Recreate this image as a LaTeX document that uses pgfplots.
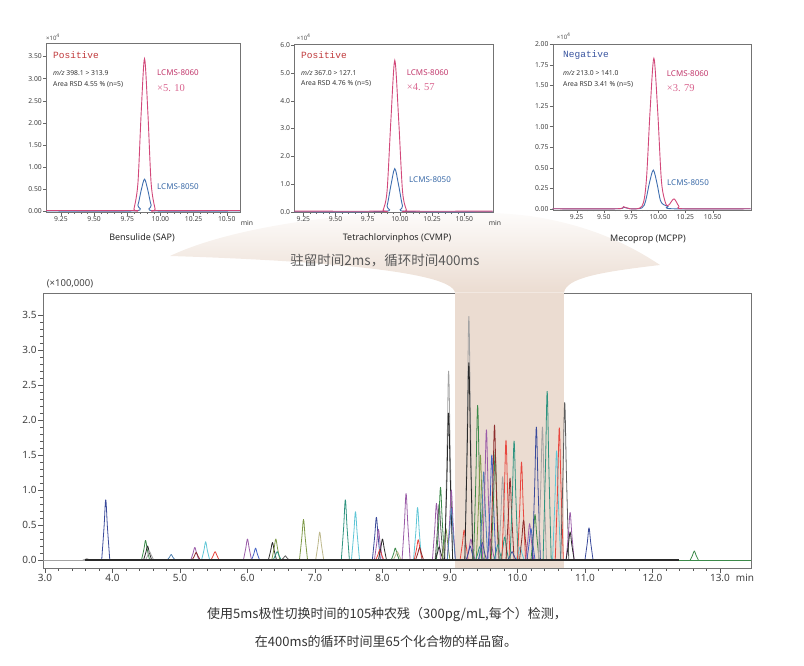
\documentclass[border=0pt]{standalone}
\usepackage{pgfplots}
\pgfplotsset{compat=1.18}
\usetikzlibrary{fadings}
\usepackage{fontspec}
\setmainfont{Noto Sans}
\newfontfamily\cjk{Noto Sans CJK SC}
\newfontfamily\monox{Liberation Mono}
\newfontfamily\serifx{Liberation Serif}

\definecolor{navy}{HTML}{3B4B9B}
\definecolor{blk}{HTML}{2A2A2A}
\definecolor{gry}{HTML}{A3A3A3}
\definecolor{dgray}{HTML}{5E5E5E}
\definecolor{dgrn}{HTML}{3C8A4A}
\definecolor{olive}{HTML}{7E9A48}
\definecolor{khaki}{HTML}{BDB88C}
\definecolor{ccyan}{HTML}{5FC6D6}
\definecolor{cred}{HTML}{E8473F}
\definecolor{dred}{HTML}{8E2E2E}
\definecolor{purp}{HTML}{9A5CA8}
\definecolor{cblue}{HTML}{4262C4}
\definecolor{steel}{HTML}{4F80B0}
\definecolor{cteal}{HTML}{2E9480}
\definecolor{band}{HTML}{EBDCD1}
\definecolor{pinkl}{HTML}{D2487A}
\definecolor{bluel}{HTML}{3F6FB0}
\definecolor{pinkt}{HTML}{C2386C}
\definecolor{bluet}{HTML}{3A6AA8}
\definecolor{post}{HTML}{C0393B}
\definecolor{negt}{HTML}{3A55A0}

\pgfplotsset{
  pk/.style={#1, line width=0.8pt, line join=round, smooth, tension=0.55, forget plot},
  inset/.style={scale only axis, anchor=south west,
    axis line style={draw=black!55}, tick align=outside,
    xtick pos=left, ytick pos=left,
    major tick length=3pt, minor tick length=1.5pt,
    tick style={black!60},
    tick label style={font=\fontsize{6.8}{8}\selectfont, text=black!75, inner sep=1pt},
    /pgf/number format/assume math mode=true, scaled ticks=false,
    xtick={9.25,9.5,9.75,10,10.25,10.5}, minor x tick num=4,
    xticklabel style={/pgf/number format/.cd,fixed,fixed zerofill,precision=2},
    axis background/.style={fill=white}},
  ipk/.style={#1, line width=0.9pt, smooth, tension=0.5},
}

\begin{document}
\begin{tikzpicture}[x=1pt,y=1pt]
\path (0,0) rectangle (804,665);

% funnel
\fill[band, path fading=north]
  (170,409) .. controls (250,447) and (420,462) .. (530,449)
  .. controls (590,440) and (630,420) .. (660,400)
  .. controls (600,393) and (566,387) .. (564,372.3)
  -- (455,372.3)
  .. controls (452,395) and (300,405) .. (170,409) -- cycle;

% ---------- inset 1 ----------
\begin{axis}[inset, at={(46pt,452.3pt)}, width=194pt, height=169.4pt,
  xmin=9.137, xmax=10.60, ymin=-0.04, ymax=3.80,
  ytick={0,0.5,1,1.5,2,2.5,3,3.5},
  yticklabel style={/pgf/number format/.cd,fixed,fixed zerofill,precision=2}]
\addplot[ipk=bluel] coordinates {(9.137,0)(9.80,0)(9.83,0.13)(9.855,0.47)(9.88,0.72)(9.905,0.47)(9.93,0.13)(9.96,0)(10.60,0)};
\addplot[ipk=pinkl] coordinates {(9.137,0.01)(9.79,0.01)(9.80,0.04)(9.83,0.62)(9.855,2.24)(9.88,3.45)(9.905,2.24)(9.93,0.62)(9.96,0.04)(9.97,0.01)(10.60,0.01)};
\end{axis}

% ---------- inset 2 ----------
\begin{axis}[inset, at={(294.3pt,452.3pt)}, width=198.4pt, height=168.7pt,
  xmin=9.18, xmax=10.72, ymin=-0.036, ymax=6.04,
  ytick={0,1,2,3,4,5,6},
  yticklabel style={/pgf/number format/.cd,fixed,fixed zerofill,precision=1}]
\addplot[ipk=bluel] coordinates {(9.18,0)(9.87,0.01)(9.90,0.21)(9.93,0.95)(9.96,1.55)(9.99,0.95)(10.02,0.21)(10.05,0.01)(10.72,0)};
\addplot[ipk=pinkl] coordinates {(9.18,0.02)(9.86,0.02)(9.87,0.06)(9.90,0.74)(9.93,3.32)(9.96,5.45)(9.99,3.32)(10.02,0.74)(10.05,0.06)(10.06,0.02)(10.72,0.02)};
\end{axis}

% ---------- inset 3 ----------
\begin{axis}[inset, at={(552.7pt,455pt)}, width=198pt, height=166pt,
  xmin=9.03, xmax=10.85, ymin=-0.015, ymax=2.005,
  ytick={0,0.25,0.5,0.75,1,1.25,1.5,1.75,2},
  yticklabel style={/pgf/number format/.cd,fixed,fixed zerofill,precision=2}]
\addplot[ipk=bluel] coordinates {(9.03,0)(9.62,0)(9.68,0.02)(9.74,0)(9.85,0.01)(9.885,0.10)(9.92,0.32)(9.955,0.47)(9.99,0.30)(10.02,0.10)(10.05,0.05)(10.09,0.03)(10.13,0)(10.85,0)};
\addplot[ipk=pinkl] coordinates {(9.03,0)(9.62,0)(9.68,0.025)(9.74,0)(9.85,0.03)(9.89,0.33)(9.925,1.19)(9.96,1.83)(9.995,1.19)(10.03,0.33)(10.07,0.06)(10.10,0.05)(10.145,0.12)(10.19,0.03)(10.23,0)(10.85,0)};
\end{axis}

% inset annotations
\begin{scope}[every node/.style={anchor=west, inner sep=0pt}]
\node[font=\fontsize{6}{7}\selectfont, text=black!70] at (46,628) {×10\textsuperscript{4}};
\node[font=\fontsize{6}{7}\selectfont, text=black!70] at (296.7,628) {×10\textsuperscript{4}};
\node[font=\fontsize{6}{7}\selectfont, text=black!70] at (556.7,629) {×10\textsuperscript{4}};

\node[font=\monox\fontsize{9.5}{11}\selectfont, text=post] at (53,610) {Positive};
\node[font=\fontsize{6.8}{8}\selectfont, text=black!80] at (53,592.3) {\textit{m/z} 398.1 > 313.9};
\node[font=\fontsize{6.8}{8}\selectfont, text=black!80] at (53,580) {Area RSD 4.55 \% (n=5)};
\node[font=\fontsize{8}{9}\selectfont, text=pinkt] at (157,592.3) {LCMS-8060};
\node[font=\serifx\fontsize{10.5}{12}\selectfont, text=pinkl!85] at (157,576.7) {×5. 10};
\node[font=\fontsize{8}{9}\selectfont, text=bluet] at (157,478.3) {LCMS-8050};

\node[font=\monox\fontsize{9.5}{11}\selectfont, text=post] at (301,610) {Positive};
\node[font=\fontsize{6.8}{8}\selectfont, text=black!80] at (301,592.3) {\textit{m/z} 367.0 > 127.1};
\node[font=\fontsize{6.8}{8}\selectfont, text=black!80] at (301,581.7) {Area RSD 4.76 \% (n=5)};
\node[font=\fontsize{8}{9}\selectfont, text=pinkt] at (406.7,592.3) {LCMS-8060};
\node[font=\serifx\fontsize{10.5}{12}\selectfont, text=pinkl!85] at (406.7,577.7) {×4. 57};
\node[font=\fontsize{8}{9}\selectfont, text=bluet] at (409,485) {LCMS-8050};

\node[font=\monox\fontsize{9.5}{11}\selectfont, text=negt] at (563,610) {Negative};
\node[font=\fontsize{6.8}{8}\selectfont, text=black!80] at (563,592.3) {\textit{m/z} 213.0 > 141.0};
\node[font=\fontsize{6.8}{8}\selectfont, text=black!80] at (563,580) {Area RSD 3.41 \% (n=5)};
\node[font=\fontsize{8}{9}\selectfont, text=pinkt] at (666.7,591.7) {LCMS-8060};
\node[font=\serifx\fontsize{10.5}{12}\selectfont, text=pinkl!85] at (666.7,576.7) {×3. 79};
\node[font=\fontsize{8}{9}\selectfont, text=bluet] at (667,482.7) {LCMS-8050};
\end{scope}

\node[font=\fontsize{6.8}{8}\selectfont, text=black!75] at (247,442.3) {min};
\node[font=\fontsize{6.8}{8}\selectfont, text=black!75] at (495,442.3) {min};

\node[font=\fontsize{9}{11}\selectfont, text=black!85] at (142,427) {Bensulide (SAP)};
\node[font=\fontsize{9}{11}\selectfont, text=black!85] at (397,427) {Tetrachlorvinphos (CVMP)};
\node[font=\fontsize{9}{11}\selectfont, text=black!85] at (648,426) {Mecoprop (MCPP)};

\node[font=\cjk\fontsize{13.5}{16}\selectfont, text=black!65] at (385,404) {驻留时间2ms，循环时间400ms};

% ---------- main chromatogram ----------
\begin{axis}[scale only axis, anchor=south west, at={(43.3pt,97.3pt)},
  width=707.7pt, height=275pt,
  xmin=2.975, xmax=13.46, ymin=-0.11, ymax=3.82,
  axis line style={draw=black!55}, tick align=outside,
  xtick pos=left, ytick pos=left,
  xtick={3,4,5,6,7,8,9,10,11,12,13},
  ytick={0,0.5,1,1.5,2,2.5,3,3.5},
  minor x tick num=4, minor y tick num=4,
  major tick length=5pt, minor tick length=3pt,
  tick style={black!65},
  tick label style={font=\fontsize{10}{12}\selectfont, text=black!75, inner sep=1.5pt},
  /pgf/number format/assume math mode=true, scaled ticks=false,
  xticklabel style={/pgf/number format/.cd,fixed,fixed zerofill,precision=1},
  yticklabel style={/pgf/number format/.cd,fixed,fixed zerofill,precision=1}]
\fill[band] (axis cs:9.07,-0.11) rectangle (axis cs:10.69,3.82);

\addplot[pk=gry] coordinates {(3.56,0)(3.595,0.01)(3.62,0.02)(3.645,0.01)(3.68,0)};
\addplot[pk=navy] coordinates {(3.84,0)(3.875,0.47)(3.90,0.86)(3.925,0.47)(3.96,0)};
\addplot[pk=dgrn] coordinates {(4.43,0)(4.465,0.15)(4.49,0.28)(4.515,0.15)(4.55,0)};
\addplot[pk=blk] coordinates {(4.46,0)(4.495,0.11)(4.52,0.20)(4.545,0.11)(4.58,0)};
\addplot[pk=gry] coordinates {(4.49,0)(4.525,0.07)(4.55,0.12)(4.575,0.07)(4.61,0)};
\addplot[pk=steel] coordinates {(4.81,0)(4.845,0.04)(4.87,0.08)(4.895,0.04)(4.93,0)};
\addplot[pk=purp] coordinates {(5.16,0)(5.195,0.10)(5.22,0.18)(5.245,0.10)(5.28,0)};
\addplot[pk=dred] coordinates {(5.18,0)(5.215,0.06)(5.24,0.11)(5.265,0.06)(5.30,0)};
\addplot[pk=ccyan] coordinates {(5.32,0)(5.355,0.14)(5.38,0.26)(5.405,0.14)(5.44,0)};
\addplot[pk=cred] coordinates {(5.46,0)(5.495,0.07)(5.52,0.12)(5.545,0.07)(5.58,0)};
\addplot[pk=purp] coordinates {(5.94,0)(5.975,0.17)(6.00,0.30)(6.025,0.17)(6.06,0)};
\addplot[pk=cblue] coordinates {(6.06,0)(6.095,0.09)(6.12,0.17)(6.145,0.09)(6.18,0)};
\addplot[pk=blk] coordinates {(6.31,0)(6.345,0.14)(6.37,0.25)(6.395,0.14)(6.43,0)};
\addplot[pk=olive] coordinates {(6.36,0)(6.395,0.17)(6.42,0.30)(6.445,0.17)(6.48,0)};
\addplot[pk=cteal] coordinates {(6.38,0)(6.415,0.07)(6.44,0.12)(6.465,0.07)(6.50,0)};
\addplot[pk=dgray] coordinates {(6.50,0)(6.535,0.03)(6.56,0.06)(6.585,0.03)(6.62,0)};
\addplot[pk=olive] coordinates {(6.77,0)(6.805,0.32)(6.83,0.58)(6.855,0.32)(6.89,0)};
\addplot[pk=khaki] coordinates {(7.01,0)(7.045,0.22)(7.07,0.40)(7.095,0.22)(7.13,0)};
\addplot[pk=cteal] coordinates {(7.39,0)(7.425,0.47)(7.45,0.86)(7.475,0.47)(7.51,0)};
\addplot[pk=ccyan] coordinates {(7.54,0)(7.575,0.38)(7.60,0.69)(7.625,0.38)(7.66,0)};
\addplot[pk=navy] coordinates {(7.85,0)(7.885,0.34)(7.91,0.61)(7.935,0.34)(7.97,0)};
\addplot[pk=purp] coordinates {(7.88,0)(7.915,0.24)(7.94,0.44)(7.965,0.24)(8.00,0)};
\addplot[pk=cred] coordinates {(7.90,0)(7.935,0.08)(7.96,0.15)(7.985,0.08)(8.02,0)};
\addplot[pk=blk] coordinates {(7.94,0)(7.975,0.17)(8.00,0.30)(8.025,0.17)(8.06,0)};
\addplot[pk=dgrn] coordinates {(8.13,0)(8.165,0.09)(8.19,0.17)(8.215,0.09)(8.25,0)};
\addplot[pk=khaki] coordinates {(8.16,0)(8.195,0.07)(8.22,0.12)(8.245,0.07)(8.28,0)};
\addplot[pk=purp] coordinates {(8.29,0)(8.325,0.52)(8.35,0.95)(8.375,0.52)(8.41,0)};
\addplot[pk=ccyan] coordinates {(8.46,0)(8.495,0.41)(8.52,0.75)(8.545,0.41)(8.58,0)};
\addplot[pk=cred] coordinates {(8.47,0)(8.505,0.16)(8.53,0.29)(8.555,0.16)(8.59,0)};
\addplot[pk=dred] coordinates {(8.49,0)(8.525,0.10)(8.55,0.18)(8.575,0.10)(8.61,0)};
\addplot[pk=purp] coordinates {(8.74,0)(8.775,0.45)(8.80,0.81)(8.825,0.45)(8.86,0)};
\addplot[pk=dgray] coordinates {(8.78,0)(8.815,0.44)(8.84,0.80)(8.865,0.44)(8.90,0)};
\addplot[pk=dgrn] coordinates {(8.80,0)(8.835,0.57)(8.86,1.04)(8.885,0.57)(8.92,0)};
\addplot[pk=blk] coordinates {(8.78,0)(8.815,0.10)(8.84,0.19)(8.865,0.10)(8.90,0)};
\addplot[pk=olive] coordinates {(8.88,0)(8.915,0.25)(8.94,0.45)(8.965,0.25)(9.00,0)};
\addplot[pk=gry] coordinates {(8.92,0)(8.955,1.49)(8.98,2.70)(9.005,1.49)(9.04,0)};
\addplot[pk=blk] coordinates {(8.92,0)(8.955,1.16)(8.98,2.10)(9.005,1.16)(9.04,0)};
\addplot[pk=purp] coordinates {(8.96,0)(8.995,0.55)(9.02,1.00)(9.045,0.55)(9.08,0)};
\addplot[pk=steel] coordinates {(8.96,0)(8.995,0.41)(9.02,0.74)(9.045,0.41)(9.08,0)};
\addplot[pk=cred] coordinates {(9.15,0)(9.185,0.24)(9.21,0.43)(9.235,0.24)(9.27,0)};
\addplot[pk=gry] coordinates {(9.22,0)(9.255,1.91)(9.28,3.48)(9.305,1.91)(9.34,0)};
\addplot[pk=blk] coordinates {(9.22,0)(9.255,1.55)(9.28,2.82)(9.305,1.55)(9.34,0)};
\addplot[pk=purp] coordinates {(9.25,0)(9.285,0.17)(9.31,0.30)(9.335,0.17)(9.37,0)};
\addplot[pk=navy] coordinates {(9.24,0)(9.275,0.11)(9.30,0.20)(9.325,0.11)(9.36,0)};
\addplot[pk=dgrn] coordinates {(9.35,0)(9.385,1.22)(9.41,2.21)(9.435,1.22)(9.47,0)};
\addplot[pk=olive] coordinates {(9.39,0)(9.425,0.83)(9.45,1.50)(9.475,0.83)(9.51,0)};
\addplot[pk=cteal] coordinates {(9.38,0)(9.415,0.10)(9.44,0.19)(9.465,0.10)(9.50,0)};
\addplot[pk=navy] coordinates {(9.42,0)(9.455,0.14)(9.48,0.25)(9.505,0.14)(9.54,0)};
\addplot[pk=steel] coordinates {(9.44,0)(9.475,0.69)(9.50,1.26)(9.525,0.69)(9.56,0)};
\addplot[pk=purp] coordinates {(9.48,0)(9.515,1.02)(9.54,1.86)(9.565,1.02)(9.60,0)};
\addplot[pk=purp] coordinates {(9.54,0)(9.575,0.17)(9.60,0.30)(9.625,0.17)(9.66,0)};
\addplot[pk=cblue] coordinates {(9.56,0)(9.595,0.83)(9.62,1.50)(9.645,0.83)(9.68,0)};
\addplot[pk=dgrn] coordinates {(9.61,0)(9.645,0.85)(9.67,1.55)(9.695,0.85)(9.73,0)};
\addplot[pk=dred] coordinates {(9.60,0)(9.635,1.06)(9.66,1.93)(9.685,1.06)(9.72,0)};
\addplot[pk=cteal] coordinates {(9.65,0)(9.685,0.12)(9.71,0.22)(9.735,0.12)(9.77,0)};
\addplot[pk=gry] coordinates {(9.72,0)(9.755,0.65)(9.78,1.19)(9.805,0.65)(9.84,0)};
\addplot[pk=cteal] coordinates {(9.75,0)(9.785,0.18)(9.81,0.33)(9.835,0.18)(9.87,0)};
\addplot[pk=cred] coordinates {(9.77,0)(9.805,0.94)(9.83,1.71)(9.855,0.94)(9.89,0)};
\addplot[pk=dred] coordinates {(9.83,0)(9.865,0.64)(9.89,1.17)(9.915,0.64)(9.95,0)};
\addplot[pk=navy] coordinates {(9.86,0)(9.895,0.07)(9.92,0.12)(9.945,0.07)(9.98,0)};
\addplot[pk=cteal] coordinates {(9.89,0)(9.925,0.94)(9.95,1.70)(9.975,0.94)(10.01,0)};
\addplot[pk=ccyan] coordinates {(9.98,0)(10.015,0.10)(10.04,0.19)(10.065,0.10)(10.10,0)};
\addplot[pk=cred] coordinates {(10.00,0)(10.035,0.77)(10.06,1.40)(10.085,0.77)(10.12,0)};
\addplot[pk=dred] coordinates {(10.03,0)(10.065,0.31)(10.09,0.57)(10.115,0.31)(10.15,0)};
\addplot[pk=purp] coordinates {(10.12,0)(10.155,0.29)(10.18,0.52)(10.205,0.29)(10.24,0)};
\addplot[pk=cblue] coordinates {(10.14,0)(10.175,0.25)(10.20,0.45)(10.225,0.25)(10.26,0)};
\addplot[pk=dgrn] coordinates {(10.20,0)(10.235,0.36)(10.26,0.65)(10.285,0.36)(10.32,0)};
\addplot[pk=navy] coordinates {(10.22,0)(10.255,1.05)(10.28,1.90)(10.305,1.05)(10.34,0)};
\addplot[pk=gry] coordinates {(10.31,0)(10.345,1.05)(10.37,1.90)(10.395,1.05)(10.43,0)};
\addplot[pk=cteal] coordinates {(10.38,0)(10.415,1.33)(10.44,2.41)(10.465,1.33)(10.50,0)};
\addplot[pk=ccyan] coordinates {(10.52,0)(10.555,0.86)(10.58,1.56)(10.605,0.86)(10.64,0)};
\addplot[pk=cred] coordinates {(10.56,0)(10.595,1.04)(10.62,1.89)(10.645,1.04)(10.68,0)};
\addplot[pk=dgray] coordinates {(10.64,0)(10.675,1.24)(10.70,2.25)(10.725,1.24)(10.76,0)};
\addplot[pk=purp] coordinates {(10.72,0)(10.755,0.37)(10.78,0.68)(10.805,0.37)(10.84,0)};
\addplot[pk=blk] coordinates {(10.72,0)(10.755,0.22)(10.78,0.40)(10.805,0.22)(10.84,0)};
\addplot[pk=navy] coordinates {(11.00,0)(11.035,0.25)(11.06,0.46)(11.085,0.25)(11.12,0)};
\addplot[pk=dgrn] coordinates {(12.56,0)(12.595,0.07)(12.62,0.13)(12.645,0.07)(12.68,0)};

\addplot[gry, line width=0.6pt, forget plot] coordinates {(2.975,0)(3.6,0)};
\addplot[blk, line width=1.3pt, forget plot] coordinates {(3.6,0)(12.4,0)};
\addplot[dgrn, line width=0.9pt, forget plot] coordinates {(12.4,0)(13.46,0)};
\end{axis}

\node[font=\fontsize{9.5}{11}\selectfont, text=black!75] at (70,381) {(×100,000)};
\node[font=\fontsize{10}{12}\selectfont, text=black!75] at (745,87) {min};

\node[font=\cjk\fontsize{13}{15}\selectfont, text=black!80] at (387,50) {使用5ms极性切换时间的105种农残（300pg/mL,每个）检测，};
\node[font=\cjk\fontsize{13}{15}\selectfont, text=black!80] at (386,23.3) {在400ms的循环时间里65个化合物的样品窗。};
\end{tikzpicture}
\end{document}
